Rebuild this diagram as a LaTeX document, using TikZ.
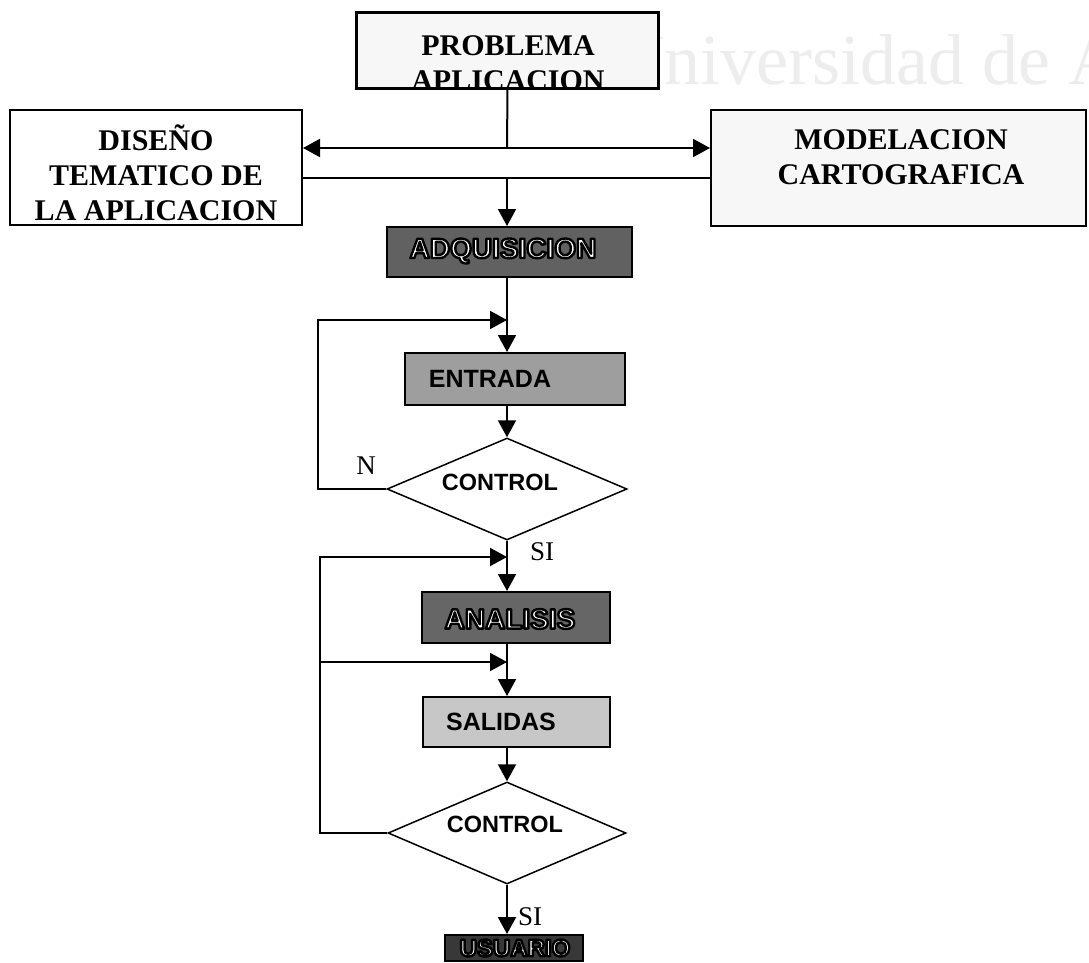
\documentclass[tikz,border=0pt]{standalone}
\usepackage{fontspec}
\setmainfont{Liberation Serif}
\newfontfamily\arialf{Liberation Sans}
\usetikzlibrary{arrows.meta,shapes.geometric}
\newcommand\outltxt[1]{\special{pdf:literal direct 0 G 2 Tr 2.4 w 1 j}#1\special{pdf:literal direct 0 Tr 2 w 0 j}}
\definecolor{wmark}{gray}{0.93}
\definecolor{paleg}{gray}{0.97}
\definecolor{adqg}{gray}{0.38}
\definecolor{entg}{gray}{0.62}
\definecolor{anag}{gray}{0.40}
\definecolor{salg}{gray}{0.78}
\definecolor{usug}{gray}{0.22}
\tikzset{
  ln/.style={line width=2pt},
  arr/.style={line width=2pt,-{Triangle[length=17pt,width=18pt]}},
  bigbox/.style={draw,line width=2pt,rectangle,inner sep=0pt},
  title/.style={font=\fontsize{30}{35}\selectfont\bfseries,align=center,inner sep=0pt},
  sbox/.style={draw,line width=2pt,rectangle,inner sep=0pt},
  slabel/.style={font=\arialf\fontsize{25}{28}\selectfont\bfseries,inner sep=0pt},
  olabel/.style={font=\arialf\fontsize{28}{30}\selectfont\bfseries,inner sep=0pt,text=white},
  ctrl/.style={draw,line width=1.5pt,diamond,inner sep=0pt,fill=white},
  ctext/.style={font=\arialf\fontsize{23.5}{26}\selectfont\bfseries,inner sep=0pt},
  yn/.style={font=\fontsize{27}{30}\selectfont,inner sep=0pt}
}
\begin{document}
\begin{tikzpicture}[x=1pt,y=-1pt]
\useasboundingbox (0,0) rectangle (1089,963);
\fill[white] (0,0) rectangle (1089,963);
% watermark
\node[font=\fontsize{72}{72}\selectfont,text=wmark,anchor=base west,inner sep=0pt] (wm) at (612,85) {Universidad de A};
% top box
\node[bigbox,fill=paleg,minimum width=301pt,minimum height=75pt] (prob) at (507.5,50.5) {};
\begin{scope}
\clip (358,14) rectangle (657,87);
\node[title] (probt) at (508,63) {PROBLEMA\\APLICACION};
\end{scope}
\draw[line width=2pt] (prob.south west) rectangle (prob.north east);
% side boxes
\node[bigbox,fill=white,minimum width=292pt,minimum height=115pt] (dis) at (156,167.5) {};
\node[title] (dist) at (156,173) {DISEÑO\\TEMATICO DE\\LA APLICACION};
\node[bigbox,fill=paleg,minimum width=375pt,minimum height=116pt] (mod) at (898.5,168) {};
\node[title] (modt) at (901,157) {MODELACION\\CARTOGRAFICA};
% junctions
\coordinate (j1) at (507,148);
\coordinate (j2) at (507,178);
\draw[ln] (prob.south) -- (j1);
\draw[arr] (j1) -- (dis.east |- j1);
\draw[arr] (j1) -- (mod.west |- j1);
\draw[ln] (dis.east |- j2) -- (mod.west |- j2);
% ADQUISICION
\node[sbox,fill=adqg,minimum width=245pt,minimum height=50pt] (adq) at (509.5,252) {};
\node[olabel] (adqt) at (503,251) {\outltxt{ADQUISICION}};
\draw[arr] (j2) -- (j2 |- adq.north);
% ENTRADA
\node[sbox,fill=entg,minimum width=220pt,minimum height=52pt] (ent) at (515,379) {};
\node[slabel] (entt) at (490,379) {ENTRADA};
\coordinate (j3) at (507,320);
\draw[arr] (j3 |- adq.south) -- (j3 |- ent.north);
% CONTROL 1
\node[ctrl,minimum width=240pt,minimum height=102pt] (c1) at (507,489) {};
\node[ctext] (c1t) at (500,482) {CONTROL};
\draw[arr] (j3 |- ent.south) -- (c1.north);
\coordinate (l1) at (318,320);
\draw[arr] (c1.west) -- (c1.west -| l1) -- (l1) -- (j3);
\node[yn] (n1) at (366,466) {N};
% ANALISIS
\node[sbox,fill=anag,minimum width=188pt,minimum height=51pt] (ana) at (516,617.5) {};
\node[olabel] (anat) at (510,619) {\outltxt{ANALISIS}};
\draw[arr] (c1.south) -- (c1.south |- ana.north);
\node[yn] (si1) at (542,552) {SI};
\coordinate (j4) at (507,557);
\coordinate (j5) at (507,662);
% SALIDAS
\node[sbox,fill=salg,minimum width=187pt,minimum height=50pt] (sal) at (516.5,722) {};
\node[slabel] (salt) at (501,722) {SALIDAS};
\draw[arr] (j5 |- ana.south) -- (j5 |- sal.north);
% CONTROL 2
\node[ctrl,minimum width=238pt,minimum height=102pt] (c2) at (507,833) {};
\node[ctext] (c2t) at (505,824) {CONTROL};
\draw[arr] (j5 |- sal.south) -- (c2.north);
\coordinate (l2) at (320,557);
\coordinate (l3) at (320,662);
\draw[arr] (c2.west) -- (c2.west -| l2) -- (l2) -- (j4);
\draw[arr] (l3) -- (j5);
% USUARIO
\node[sbox,fill=usug,minimum width=138pt,minimum height=26pt] (usu) at (514,948) {};
\node[olabel,font=\arialf\fontsize{24}{26}\selectfont\bfseries] (usut) at (515,948) {\outltxt{USUARIO}};
\draw[arr] (c2.south) -- (c2.south |- usu.north);
\node[yn] (si2) at (530,917) {SI};
\end{tikzpicture}
\end{document}
